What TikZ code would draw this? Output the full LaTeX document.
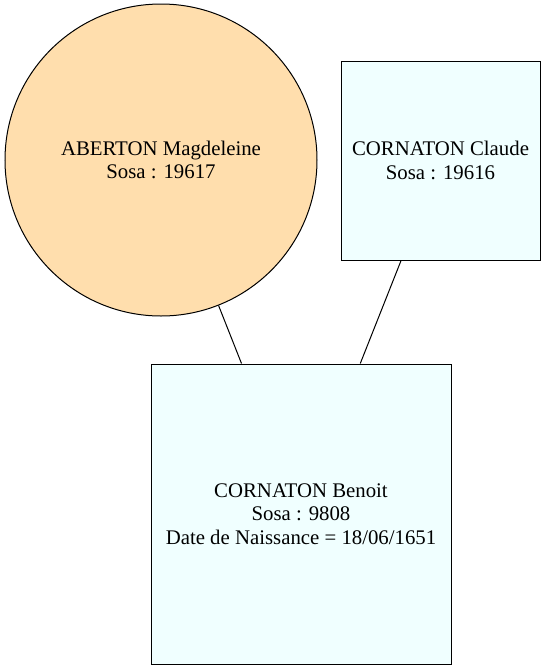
\documentclass[tikz,border=0pt]{standalone}
\usepackage{fontspec}
\setmainfont{Liberation Serif}
\definecolor{navaj}{RGB}{255,222,173}
\definecolor{azur}{RGB}{240,255,255}
\begin{document}
\begin{tikzpicture}[x=1pt,y=-1pt,
  person/.style={draw=black,line width=1pt,align=center,inner sep=0pt,
    font=\fontsize{20.8}{23.5}\selectfont},
  fem/.style={person,circle,fill=navaj,minimum size=312pt},
  masc/.style={person,rectangle,fill=azur},
  link/.style={draw=black,line width=1pt}]
\useasboundingbox (0,0) rectangle (546,670);
\node[fem] (mag) at (161,160) {ABERTON Magdeleine\\Sosa : 19617};
\node[masc,minimum width=199pt,minimum height=199pt] (cla) at (440.5,160.5) {CORNATON Claude\\Sosa : 19616};
\node[masc,minimum width=300pt,minimum height=300pt] (ben) at (301,514) {CORNATON Benoit\\Sosa : 9808\\Date de Naissance = 18/06/1651};
\draw[link] (mag) -- (ben);
\draw[link] (cla) -- (ben);
\end{tikzpicture}
\end{document}
